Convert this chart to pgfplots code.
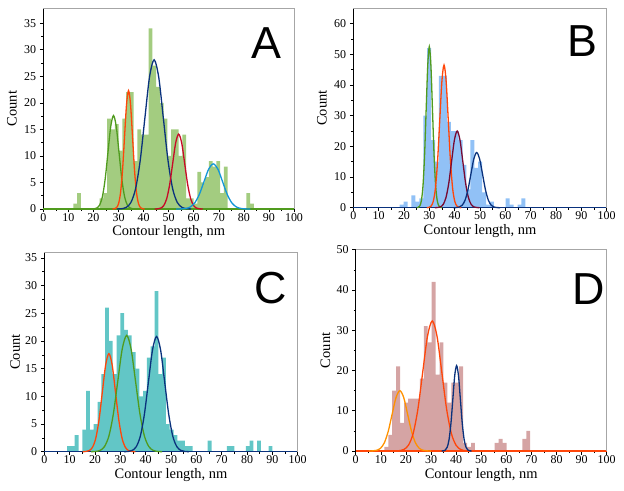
\documentclass[border=0pt]{standalone}
\usepackage{fontspec}
\setmainfont{Liberation Serif}
\newfontfamily\letterfont{Liberation Sans}
\usepackage{pgfplots}
\pgfplotsset{compat=1.18}
\definecolor{cgreen}{RGB}{80,155,30}
\definecolor{corange}{RGB}{255,70,10}
\definecolor{cnavy}{RGB}{10,50,125}
\definecolor{cred}{RGB}{200,10,40}
\definecolor{csky}{RGB}{20,150,215}
\definecolor{cmaroon}{RGB}{120,10,50}
\definecolor{camber}{RGB}{255,145,0}
\definecolor{barA}{RGB}{163,204,128}
\definecolor{barB}{RGB}{145,193,246}
\definecolor{barC}{RGB}{98,198,198}
\definecolor{barD}{RGB}{213,164,164}
\tikzset{letter/.style={anchor=base east, font=\letterfont\fontsize{45}{45}\selectfont}}
\pgfplotsset{
 panel/.style={
  scale only axis, clip=false,
  xmin=0, xmax=100, ymin=0,
  xtick={0,10,...,100}, minor x tick num=1, minor y tick num=1,
  axis x line=bottom, axis y line=left,
  axis line style={-, black, line width=0.7bp},
  tick align=outside, major tick length=3.5bp, minor tick length=2bp,
  every tick/.style={black, line width=0.5bp},
  /pgf/number format/assume math mode=true,
  tick label style={font=\fontsize{12}{12}\selectfont, inner sep=0pt},
  xticklabel style={anchor=north, yshift=-0.5bp},
  yticklabel style={anchor=east, xshift=-3.5bp},
  xlabel={Contour length, nm}, ylabel={Count},
  label style={font=\fontsize{14.5}{14.5}\selectfont, inner sep=0pt},
  after end axis/.code={\draw[gray!70, line width=0.7bp] (rel axis cs:0,1) -- (rel axis cs:1,1) -- (rel axis cs:1,0);},
 },
 hbar/.style={ybar, bar width=#1, bar shift=0pt, draw=none},
 gcurve/.style={smooth, no marks, line width=1.3bp, draw=#1},
 bline/.style={no marks, line width=1.3bp, draw=#1},
}
\begin{document}
\begin{tikzpicture}
\path[use as bounding box] (0,0) rectangle (624bp,491bp);
% ---------------- A ----------------
\begin{axis}[panel, at={(43.3bp,282bp)}, anchor=south west,
  width=250.7bp, height=200.7bp, ymax=37.8, ytick={0,5,...,35},
  xlabel style={at={(axis description cs:0.5,-0.13)}, anchor=base},
  ylabel style={at={(axis description cs:-0.106,0.5)}, anchor=base}]
\addplot[hbar=1.5, fill=barA] coordinates {
(12.75,1) (14.25,3) (23.25,2) (24.75,3) (26.25,17) (27.75,15) (29.25,16) (30.75,11)
(32.25,17) (33.75,22) (35.25,22) (36.75,9) (38.25,15) (39.75,14) (41.25,14) (42.75,34)
(44.25,27) (45.75,23) (47.25,20) (48.75,17) (50.25,10) (51.75,15) (53.25,15) (54.75,10)
(56.25,14) (57.75,2) (59.25,2) (60.75,1) (62.25,7) (63.75,5) (65.25,6) (66.75,9)
(68.25,8) (69.75,9) (71.25,3) (72.75,8) (81.75,3) (83.25,1)};
\addplot[bline=cgreen] coordinates {(0,0) (100,0)};
\addplot[gcurve=cgreen] coordinates {(19.2,0.005) (20.3,0.039) (21.4,0.195) (22.5,0.773) (23.6,2.381) (24.7,5.715) (25.8,10.674) (26.9,15.532) (28,17.6) (29.1,15.532) (30.2,10.674) (31.3,5.715) (32.4,2.381) (33.5,0.773) (34.6,0.195) (35.7,0.039) (36.8,0.005)};
\addplot[gcurve=corange] coordinates {(27.6,0.007) (28.4,0.049) (29.2,0.248) (30,0.979) (30.8,3.017) (31.6,7.241) (32.4,13.525) (33.2,19.68) (34,22.3) (34.8,19.68) (35.6,13.525) (36.4,7.241) (37.2,3.017) (38,0.979) (38.8,0.248) (39.6,0.049) (40.4,0.007)};
\addplot[gcurve=cnavy] coordinates {(29.4,0.008) (31.25,0.062) (33.1,0.312) (34.95,1.234) (36.8,3.802) (38.65,9.124) (40.5,17.043) (42.35,24.798) (44.2,28.1) (46.05,24.798) (47.9,17.043) (49.75,9.124) (51.6,3.802) (53.45,1.234) (55.3,0.312) (57.15,0.062) (59,0.008)};
\addplot[gcurve=cred] coordinates {(44.4,0.004) (45.6,0.031) (46.8,0.157) (48,0.619) (49.2,1.908) (50.4,4.578) (51.6,8.552) (52.8,12.443) (54,14.1) (55.2,12.443) (56.4,8.552) (57.6,4.578) (58.8,1.908) (60,0.619) (61.2,0.157) (62.4,0.031) (63.6,0.004)};
\addplot[gcurve=csky] coordinates {(53,0.003) (54.85,0.019) (56.7,0.094) (58.55,0.373) (60.4,1.150) (62.25,2.760) (64.1,5.155) (65.95,7.501) (67.8,8.5) (69.65,7.501) (71.5,5.155) (73.35,2.760) (75.2,1.150) (77.05,0.373) (78.9,0.094) (80.75,0.019) (82.6,0.003)};
\node[letter] at (axis description cs:0.964,0.752) {A};
\end{axis}
% ---------------- B ----------------
\begin{axis}[panel, at={(353.3bp,283.3bp)}, anchor=south west,
  width=253.4bp, height=199.4bp, ymax=65, ytick={0,10,...,60},
  xlabel style={at={(axis description cs:0.5,-0.132)}, anchor=base},
  ylabel style={at={(axis description cs:-0.105,0.5)}, anchor=base}]
\addplot[hbar=1.55, fill=barB] coordinates {
(19.08,1) (20.63,2) (23.73,4) (25.28,2) (26.83,3) (28.38,30) (29.93,52) (31.48,22)
(33.03,15) (34.58,43) (36.13,43) (37.68,28) (39.23,25) (40.78,25) (42.33,22) (43.88,14)
(45.43,6) (46.98,22) (48.53,13) (50.08,15) (51.63,5) (53.18,1) (54.73,2) (60.93,3)
(62.48,1) (65.58,1) (67.13,3)};
\addplot[bline=cnavy] coordinates {(0,0) (100,0)};
\addplot[gcurve=cgreen] coordinates {(25,0.016) (25.625,0.116) (26.25,0.583) (26.875,2.305) (27.5,7.103) (28.125,17.047) (28.75,31.841) (29.375,46.331) (30,52.5) (30.625,46.331) (31.25,31.841) (31.875,17.047) (32.5,7.103) (33.125,2.305) (33.75,0.583) (34.375,0.116) (35,0.016)};
\addplot[gcurve=corange] coordinates {(29,0.014) (29.85,0.102) (30.7,0.516) (31.55,2.041) (32.4,6.291) (33.25,15.099) (34.1,28.202) (34.95,41.036) (35.8,46.5) (36.65,41.036) (37.5,28.202) (38.35,15.099) (39.2,6.291) (40.05,2.041) (40.9,0.516) (41.75,0.102) (42.6,0.014)};
\addplot[gcurve=cmaroon] coordinates {(32.2,0.008) (33.3,0.055) (34.4,0.278) (35.5,1.098) (36.6,3.383) (37.7,8.118) (38.8,15.163) (39.9,22.063) (41,25) (42.1,22.063) (43.2,15.163) (44.3,8.118) (45.4,3.383) (46.5,1.098) (47.6,0.278) (48.7,0.055) (49.8,0.008)};
\addplot[gcurve=cnavy] coordinates {(39.5,0.005) (40.65,0.040) (41.8,0.200) (42.95,0.790) (44.1,2.435) (45.25,5.845) (46.4,10.917) (47.55,15.885) (48.7,18) (49.85,15.885) (51,10.917) (52.15,5.845) (53.3,2.435) (54.45,0.790) (55.6,0.200) (56.75,0.040) (57.9,0.005)};
\node[letter] at (axis description cs:0.976,0.757) {B};
\end{axis}
% ---------------- C ----------------
\begin{axis}[panel, at={(44.3bp,39.3bp)}, anchor=south west,
  width=253.4bp, height=199.4bp, ymax=36, ytick={0,5,...,35},
  xlabel style={at={(axis description cs:0.5,-0.136)}, anchor=base},
  ylabel style={at={(axis description cs:-0.0959,0.5)}, anchor=base}]
\addplot[hbar=1.5, fill=barC] coordinates {
(9.75,1) (11.25,1) (12.75,3) (15.75,4) (17.25,11) (18.75,4) (20.25,5) (21.75,9)
(23.25,14) (24.75,26) (26.25,20) (27.75,14) (29.25,21) (30.75,25) (32.25,22) (33.75,21)
(35.25,18) (36.75,15) (38.25,10) (39.75,11) (41.25,17) (42.75,19) (44.25,29) (45.75,14)
(47.25,17) (48.75,5) (50.25,4) (51.75,3) (53.25,2) (54.75,2) (56.25,1) (57.75,1)
(65.25,2) (72.75,1) (74.25,1) (80.25,1) (81.75,2) (84.75,2) (89.25,1)};
\addplot[bline=cnavy] coordinates {(0,0) (100,0)};
\addplot[gcurve=corange] coordinates {(15.1,0.005) (16.4,0.039) (17.7,0.196) (19,0.777) (20.3,2.395) (21.6,5.747) (22.9,10.735) (24.2,15.620) (25.5,17.7) (26.8,15.620) (28.1,10.735) (29.4,5.747) (30.7,2.395) (32,0.777) (33.3,0.196) (34.6,0.039) (35.9,0.005)};
\addplot[gcurve=cgreen] coordinates {(18.5,0.006) (20.25,0.046) (22,0.233) (23.75,0.922) (25.5,2.841) (27.25,6.819) (29,12.737) (30.75,18.533) (32.5,21) (34.25,18.533) (36,12.737) (37.75,6.819) (39.5,2.841) (41.25,0.922) (43,0.233) (44.75,0.046) (46.5,0.006)};
\addplot[gcurve=cnavy] coordinates {(31.5,0.006) (33.1,0.046) (34.7,0.231) (36.3,0.913) (37.9,2.814) (39.5,6.754) (41.1,12.615) (42.7,18.356) (44.3,20.8) (45.9,18.356) (47.5,12.615) (49.1,6.754) (50.7,2.814) (52.3,0.913) (53.9,0.231) (55.5,0.046) (57.1,0.006)};
\node[letter] at (axis description cs:0.972,0.745) {C};
\end{axis}
% ---------------- D ----------------
\begin{axis}[panel, at={(355.7bp,40bp)}, anchor=south west,
  width=251bp, height=201.3bp, ymax=50, ytick={0,10,...,50},
  xlabel style={at={(axis description cs:0.5,-0.135)}, anchor=base},
  ylabel style={at={(axis description cs:-0.1024,0.5)}, anchor=base}]
\addplot[hbar=1.57, fill=barD] coordinates {
(12.2,1) (13.77,4) (15.34,15) (16.91,21) (18.48,7) (20.05,12) (21.62,13) (23.19,13)
(24.76,13) (26.33,18) (27.9,31) (29.47,27) (31.04,42) (32.61,19) (34.18,27) (35.75,17)
(37.32,12) (38.89,17) (40.46,17) (42.03,21) (43.6,2) (45.17,1) (46.74,2) (56.18,2)
(57.75,3) (59.32,2) (67.17,3) (68.74,5)};
\addplot[bline=corange] coordinates {(0,0) (100,0)};
\addplot[gcurve=camber] coordinates {(5.2,0.005) (6.75,0.033) (8.3,0.167) (9.85,0.659) (11.4,2.030) (12.95,4.871) (14.5,9.098) (16.05,13.238) (17.6,15) (19.15,13.238) (20.7,9.098) (22.25,4.871) (23.8,2.030) (25.35,0.659) (26.9,0.167) (28.45,0.033) (30,0.005)};
\addplot[gcurve=corange] coordinates {(15.3,0.010) (17.2,0.071) (19.1,0.359) (21,1.418) (22.9,4.370) (24.8,10.488) (26.7,19.590) (28.6,28.505) (30.5,32.3) (32.4,28.505) (34.3,19.590) (36.2,10.488) (38.1,4.370) (40,1.418) (41.9,0.359) (43.8,0.071) (45.7,0.010)};
\addplot[gcurve=cnavy] coordinates {(34.2,0.006) (34.95,0.047) (35.7,0.235) (36.45,0.931) (37.2,2.868) (37.95,6.884) (38.7,12.858) (39.45,18.709) (40.2,21.2) (40.95,18.709) (41.7,12.858) (42.45,6.884) (43.2,2.868) (43.95,0.931) (44.7,0.235) (45.45,0.047) (46.2,0.006)};
\node[letter] at (axis description cs:1.008,0.729) {D};
\end{axis}
\end{tikzpicture}
\end{document}
